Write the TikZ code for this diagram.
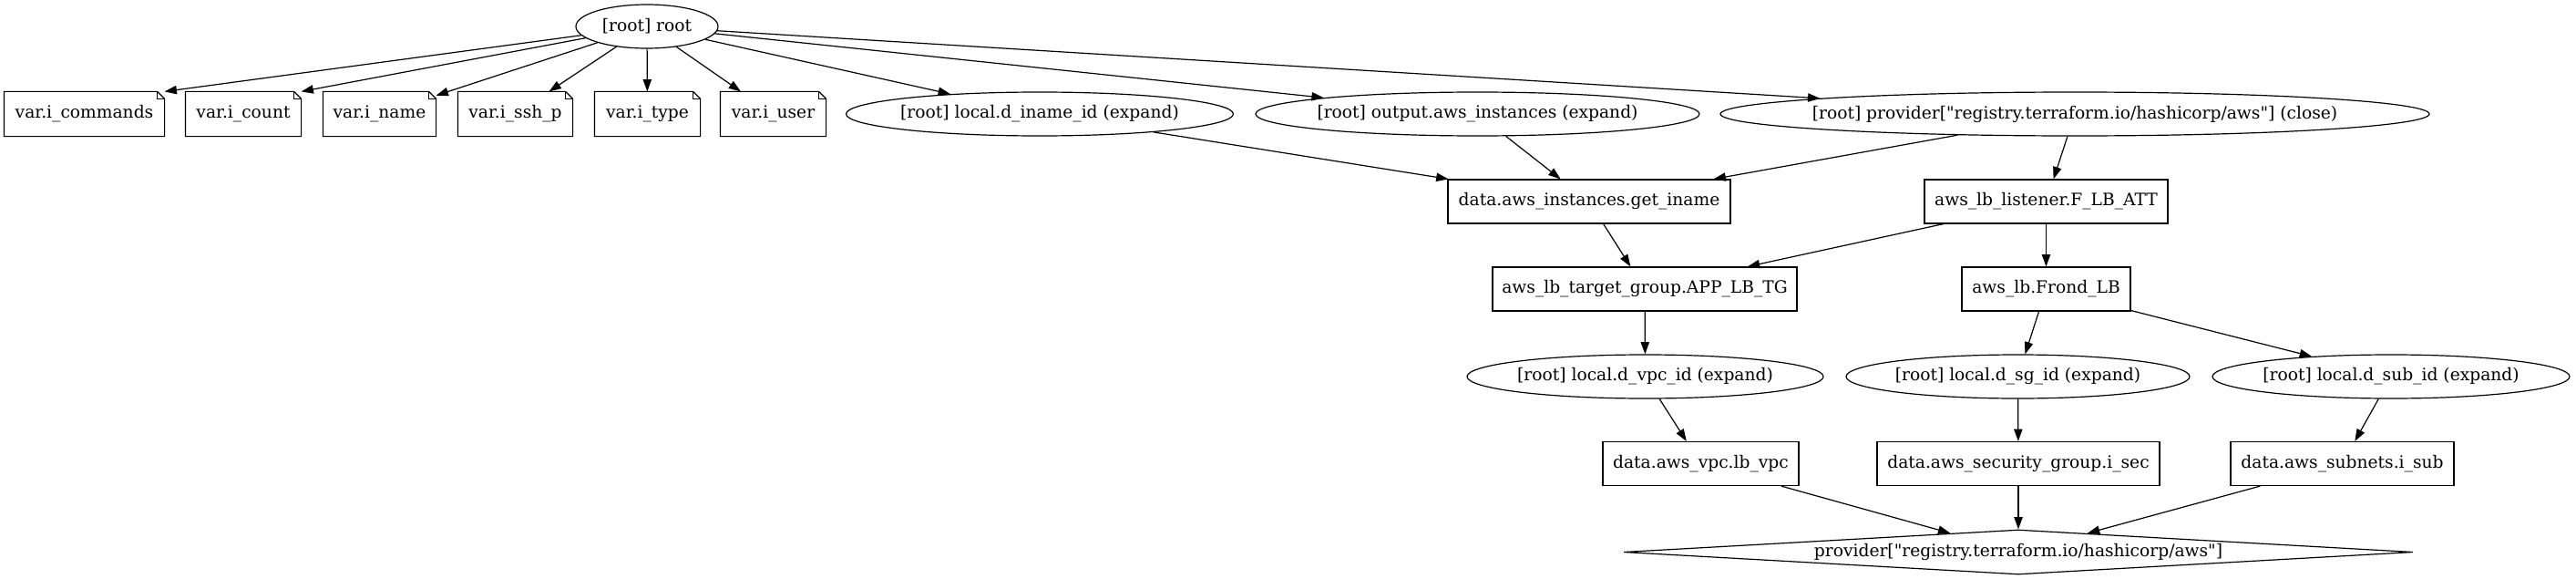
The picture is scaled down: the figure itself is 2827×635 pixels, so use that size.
\documentclass[tikz,border=0pt]{standalone}
\usepackage{fontspec}
\newfontfamily\gvfont{DejaVu Serif}
\usetikzlibrary{shapes.geometric,arrows.meta}
\newcommand\ztext[1]{\makebox[0pt]{#1}}
\begin{document}
\begin{tikzpicture}[x=0.75pt,y=-0.75pt,
  every node/.style={font=\gvfont\fontsize{14}{16}\selectfont, inner sep=0pt, line width=0.9pt},
  box/.style={draw, rectangle, minimum height=36pt},
  notebox/.style={rectangle, minimum height=36pt},
  ell/.style={draw, ellipse, minimum height=36pt},
  dia/.style={draw, diamond, aspect=18, minimum width=649.5pt, minimum height=36.75pt},
  edge/.style={line width=0.9pt, -{Triangle[length=10pt,width=7pt]}}]
\useasboundingbox (0,0) rectangle (2827,635);
% row 1
\node[ell, minimum width=117pt] (root) at (710,29) {\ztext{[root] root}};
% row 2
\node[notebox, minimum width=131.25pt] (vcmd) at (92.5,125) {var.i\_commands};
\node[notebox, minimum width=94.5pt] (vcnt) at (267,125) {var.i\_count};
\node[notebox, minimum width=92.25pt] (vnam) at (416.5,125) {var.i\_name};
\node[notebox, minimum width=93.75pt] (vssh) at (565.5,125) {var.i\_ssh\_p};
\node[notebox, minimum width=86.25pt] (vtyp) at (710.5,125) {var.i\_type};
\node[notebox, minimum width=86.25pt] (vusr) at (848.5,125) {var.i\_user};
\foreach \n in {vcmd,vcnt,vnam,vssh,vtyp,vusr}{
  \draw[line width=0.9pt] (\n.north west) -- ([xshift=-6pt]\n.north east) -- ([yshift=-6pt]\n.north east) -- (\n.south east) -- (\n.south west) -- cycle;
  \draw[line width=0.9pt] ([xshift=-6pt]\n.north east) |- ([yshift=-6pt]\n.north east);
}
\node[ell, minimum width=318.75pt] (dname) at (1141,125) {\ztext{[root] local.d\_iname\_id (expand)}};
\node[ell, minimum width=365.25pt] (outp) at (1621.5,125) {\ztext{[root] output.aws\_instances (expand)}};
\node[ell, minimum width=583.5pt] (pclose) at (2277,125) {\ztext{[root] provider["registry.terraform.io/hashicorp/aws"] (close)}};
% row 3
\node[box, minimum width=232.5pt] (getin) at (1744,221) {data.aws\_instances.get\_iname};
\node[box, minimum width=200.25pt] (lsn) at (2245.5,221) {aws\_lb\_listener.F\_LB\_ATT};
% row 4
\node[box, minimum width=250.5pt] (tg) at (1805,317) {aws\_lb\_target\_group.APP\_LB\_TG};
\node[box, minimum width=138.75pt] (lb) at (2245.5,317) {aws\_lb.Frond\_LB};
% row 5
\node[ell, minimum width=293.25pt] (dvpc) at (1805.5,413) {\ztext{[root] local.d\_vpc\_id (expand)}};
\node[ell, minimum width=282.75pt] (dsg) at (2214.5,413) {\ztext{[root] local.d\_sg\_id (expand)}};
\node[ell, minimum width=294pt] (dsub) at (2624,413) {\ztext{[root] local.d\_sub\_id (expand)}};
% row 6
\node[box, minimum width=161.25pt] (vpc) at (1866.5,508.5) {data.aws\_vpc.lb\_vpc};
\node[box, minimum width=232.5pt] (sec) at (2215,508.5) {data.aws\_security\_group.i\_sec};
\node[box, minimum width=183.75pt] (sub) at (2570.5,508.5) {data.aws\_subnets.i\_sub};
% row 7
\node[dia] (prov) at (2215,605.5) {\ztext{provider["registry.terraform.io/hashicorp/aws"]}};
% edges
\draw[edge] (root) -- (vcmd.north east);
\draw[edge] (root) -- (vcnt.north east);
\draw[edge] (root) -- (vnam);
\draw[edge] (root) -- (vssh);
\draw[edge] (root) -- (vtyp);
\draw[edge] (root) -- (vusr);
\draw[edge] (root) -- (dname);
\draw[edge] (root) -- (outp);
\draw[edge] (root) -- (pclose);
\draw[edge] (dname) -- (getin);
\draw[edge] (outp) -- (getin);
\draw[edge] (pclose) -- (getin);
\draw[edge] (pclose) -- (lsn);
\draw[edge] (getin) -- (tg);
\draw[edge] (lsn) -- (tg);
\draw[edge] (lsn) -- (lb);
\draw[edge] (tg) -- (dvpc);
\draw[edge] (lb) -- (dsg);
\draw[edge] (lb) -- (dsub);
\draw[edge] (dvpc) -- (vpc);
\draw[edge] (dsg) -- (sec);
\draw[edge] (dsub) -- (sub);
\draw[edge] (vpc) -- (prov);
\draw[edge] (sec) -- (prov);
\draw[edge] (sub) -- (prov);
\end{tikzpicture}
\end{document}
